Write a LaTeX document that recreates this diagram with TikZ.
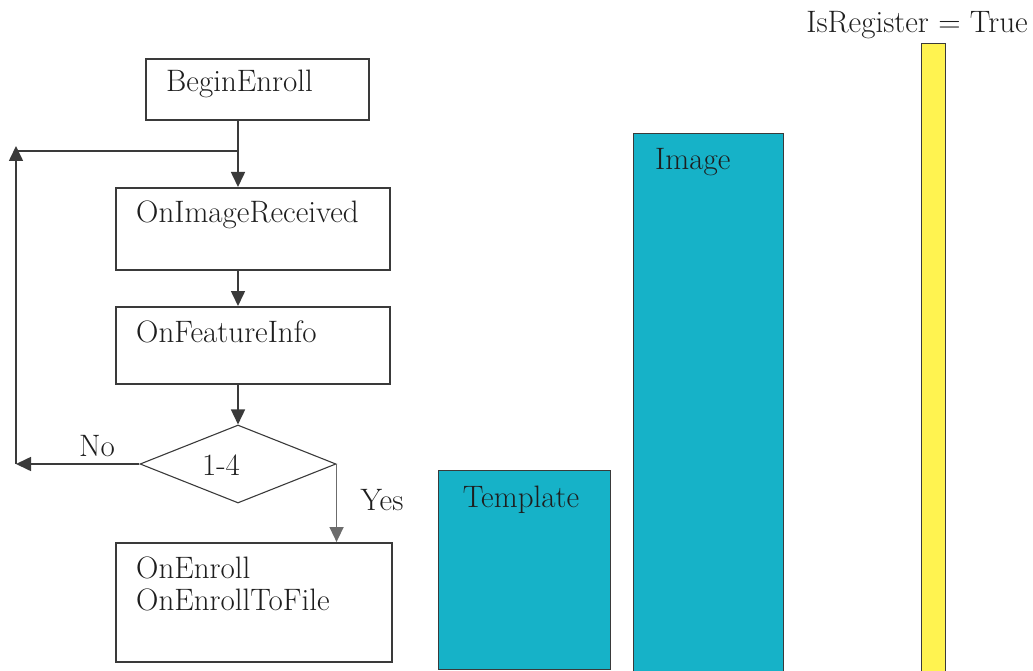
\documentclass[tikz,border=0pt]{standalone}
\usetikzlibrary{arrows.meta,shapes.geometric}
\definecolor{inkline}{RGB}{58,58,58}
\definecolor{inktext}{RGB}{30,30,30}
\definecolor{barteal}{RGB}{22,178,200}
\definecolor{baryellow}{RGB}{255,243,80}
\tikzset{
  flowbox/.style={draw=inkline, line width=1.6pt, rectangle, inner sep=0pt, anchor=north west},
  bar/.style={draw=inkline, line width=1.3pt, rectangle, inner sep=0pt, anchor=north west},
  txt/.style={text=inktext, inner sep=0pt, font=\rmfamily\fontsize{31}{35}\selectfont},
  conn/.style={draw=inkline, line width=1.6pt},
  arr/.style={conn, -{Triangle[width=14pt,length=15pt]}},
}
\begin{document}
\begin{tikzpicture}[x=1pt,y=-1pt]
\useasboundingbox (0,0) rectangle (1033,671);

% flowchart boxes
\node[flowbox, minimum width=223pt, minimum height=61pt] (be) at (145,58) {};
\node[txt, anchor=west] (tbe) at (166,84) {BeginEnroll};

\node[flowbox, minimum width=274pt, minimum height=82pt] (oir) at (115,187) {};
\node[txt, anchor=west] (toir) at (136,215) {OnImageReceived};

\node[flowbox, minimum width=274pt, minimum height=77pt] (ofi) at (115,306) {};
\node[txt, anchor=west] (tofi) at (136,332) {OnFeatureInfo};

\node[draw=inkline, line width=1.1pt, diamond, inner sep=0pt,
      minimum width=196pt, minimum height=78pt] (dia) at (238,464) {};
\node[txt] (tdia) at (221,465) {1-4};

\node[flowbox, minimum width=276pt, minimum height=119pt] (oe) at (115,542) {};
\node[txt, anchor=north west, align=left] (toe) at (136,557)
  {OnEnroll\\[-3pt]OnEnrollToFile};

% branch labels
\node[txt] (lno) at (97,446) {No};
\node[txt] (lyes) at (382,500) {Yes};

% connectors
\coordinate (j1) at (238,151);
\coordinate (c1) at (16,146);
\coordinate (c2) at (16,464);
\draw[conn] (j1 |- be.south) -- (j1);
\draw[arr] (j1) -- (j1 |- oir.north);
\draw[conn] (j1) -- (16,151);
\draw[arr] (c2) -- (c1);
\draw[arr] (dia.west) -- (c2);
\draw[arr] (oir.south -| j1) -- (ofi.north -| j1);
\draw[arr] (ofi.south -| j1) -- (dia.north);
\draw[arr, draw=gray!85!black, fill=inkline] (dia.east) -- (dia.east |- oe.north);

% data bars
\node[bar, fill=barteal, minimum width=172pt, minimum height=199pt] (tpl) at (438,470) {};
\node[txt] (ttpl) at (521,500) {Template};

\node[bar, fill=barteal, minimum width=150pt, minimum height=540pt] (img) at (633,133) {};
\node[txt, anchor=west] (timg) at (655,162) {Image};

\node[bar, fill=baryellow, minimum width=24pt, minimum height=630pt] (reg) at (921,43) {};
\node[txt] (treg) at (917,25) {IsRegister = True};
\end{tikzpicture}
\end{document}
